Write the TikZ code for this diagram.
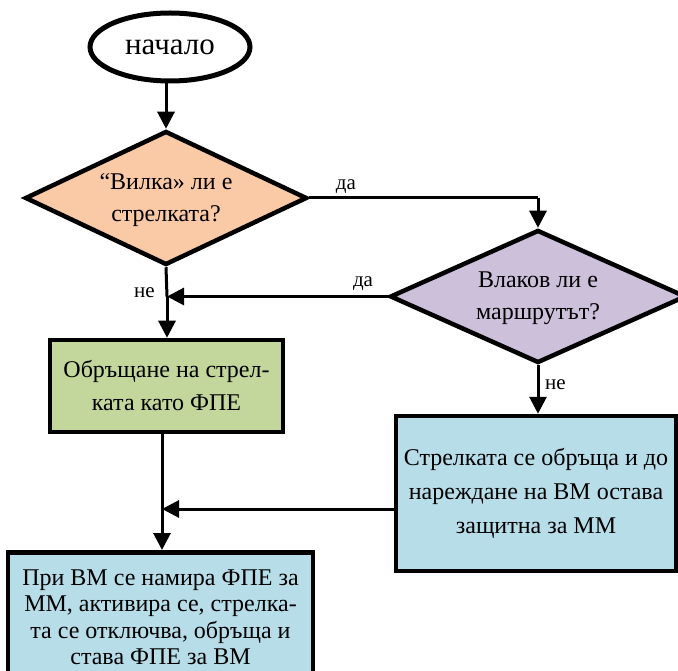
\documentclass[tikz,border=0pt]{standalone}
\usepackage{fontspec}
\setmainfont{Liberation Serif}
\usetikzlibrary{shapes.geometric,arrows.meta}
\definecolor{peach}{HTML}{FAC9A6}
\definecolor{lav}{HTML}{CCC0DA}
\definecolor{grn}{HTML}{C3D69B}
\definecolor{lblue}{HTML}{B7DDE8}
\begin{document}
\begin{tikzpicture}[x=1pt,y=-1pt,
  box/.style={draw,line width=4.5pt,rectangle,align=center,inner sep=0pt,font=\fontsize{24}{33}\selectfont},
  dia/.style={draw,line width=4.5pt,diamond,inner sep=0pt},
  diatext/.style={align=center,inner sep=0pt,font=\fontsize{24}{32}\selectfont},
  arr/.style={line width=3pt,-{Triangle[length=17pt,width=17pt]}},
  ln/.style={line width=3pt},
  lbl/.style={font=\fontsize{21}{22}\selectfont,inner sep=1pt}]
\useasboundingbox (0,0) rectangle (678,671);
\node[draw,ellipse,line width=5pt,minimum width=160pt,minimum height=68pt,inner sep=0pt,font=\fontsize{31}{32}\selectfont] (start) at (170,47) {начало};
\node[dia,fill=peach,minimum width=282pt,minimum height=134pt] (d1) at (166,198) {};
\node[diatext] (d1t) at (166,200) {“Вилка» ли е\\стрелката?};
\node[dia,fill=lav,minimum width=296pt,minimum height=133pt] (d2) at (538,296.5) {};
\node[diatext] (d2t) at (538,298) {Влаков ли е\\маршрутът?};
\node[box,fill=grn,minimum width=233pt,minimum height=92pt] (g) at (166.5,386) {Обръщане на стрел-\\ката като ФПЕ};
\node[box,fill=lblue,minimum width=280pt,minimum height=155pt,font=\fontsize{24}{34}\selectfont] (r) at (536,493.5) {Стрелката се обръща и до\\нареждане на ВМ остава\\защитна за ММ};
\node[box,fill=lblue,minimum width=305pt,minimum height=130pt,font=\fontsize{24}{26.5}\selectfont,anchor=north] (b) at (160.5,550) {При ВМ се намира ФПЕ за\\ММ, активира се, стрелка-\\та се отключва, обръща и\\става ФПЕ за ВМ};
\coordinate (j1) at (167,296.5);
\coordinate (j2) at (162,509);
\coordinate (c1) at (538,198);
\coordinate (gb) at (162,432);
\draw[arr] (d1.north |- start.south) -- (d1.north);
\draw[ln] (d1.east) -- (c1);
\draw[arr] (c1) -- (d2.north);
\node[lbl,anchor=south] (l1) at (346,195) {да};
\draw[ln] (d1.south) -- (j1);
\draw[arr] (j1) -- (g.north -| j1);
\draw[arr] (d2.west) -- (j1);
\node[lbl,anchor=south] (l2) at (363,292) {да};
\node[lbl,anchor=east] (l3) at (156,293) {не};
\draw[arr] (d2.south) -- (r.north -| d2.south);
\node[lbl,anchor=west] (l4) at (544,385) {не};
\draw[ln] (gb) -- (j2);
\draw[arr] (j2) -- (b.north -| j2);
\draw[arr] (r.west |- j2) -- (j2);
\end{tikzpicture}
\end{document}
